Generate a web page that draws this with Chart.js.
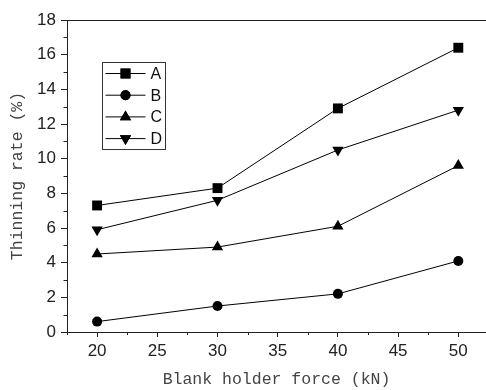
<!DOCTYPE html>
<html>
<head>
<meta charset="utf-8">
<script src="https://cdn.jsdelivr.net/npm/chart.js@4.4.1/dist/chart.umd.min.js"></script>
<style>
html,body{margin:0;padding:0;background:#fff;overflow:hidden;}
#wrap{width:486px;height:390px;overflow:hidden;position:relative;}
</style>
</head>
<body>
<div id="wrap"><canvas id="c" width="493" height="390"></canvas></div>
<script>
const forces = [20, 30, 40, 50];
const seriesA = [7.3, 8.3, 12.9, 16.4];
const seriesB = [0.6, 1.5, 2.2, 4.1];
const seriesC = [4.5, 4.9, 6.1, 9.6];
const seriesD = [5.9, 7.6, 10.5, 12.8];
const seriesNames = ['A', 'B', 'C', 'D'];
const xTicks = [20, 25, 30, 35, 40, 45, 50];
const yTicks = [0, 2, 4, 6, 8, 10, 12, 14, 16, 18];
const xTitle = 'Blank holder force (kN)';
const yTitle = 'Thinning rate (%)';

const axisColor = '#222';
const tickFont = {family: '"Liberation Sans", Arial, sans-serif', size: 17};
const titleFont = {family: '"Liberation Mono", "DejaVu Sans Mono", monospace', size: 16.5};

function pts(vals){ return forces.map((f,i)=>({x:f, y:vals[i]})); }

const styles = [
  {pointStyle:'rect', radius:7, rotation:0},
  {pointStyle:'circle', radius:5, rotation:0},
  {pointStyle:'triangle', radius:6.5, rotation:0},
  {pointStyle:'triangle', radius:6.5, rotation:180}
];
const allSeries = [seriesA, seriesB, seriesC, seriesD];

const datasets = allSeries.map((s,i)=>({
  label: seriesNames[i],
  data: pts(s),
  borderColor:'#000',
  backgroundColor:'#000',
  borderWidth:1,
  pointStyle: styles[i].pointStyle,
  pointRadius: styles[i].radius,
  pointRotation: styles[i].rotation,
  pointBorderWidth: 0,
  pointBackgroundColor:'#000',
  tension:0
}));

const decorPlugin = {
  id:'decor',
  afterDraw(chart){
    const ctx = chart.ctx, ca = chart.chartArea;
    const xs = chart.scales.x, ys = chart.scales.y;
    ctx.save();
    ctx.strokeStyle = axisColor;
    ctx.lineWidth = 1;
    ctx.beginPath();
    ctx.moveTo(ca.left, Math.round(ca.top)+0.5);
    ctx.lineTo(ca.right, Math.round(ca.top)+0.5);
    ctx.stroke();
    const xStep = xTicks[1]-xTicks[0];
    ctx.beginPath();
    for (let v = xTicks[0]-xStep/2; v <= xs.max; v += xStep){
      if (v < xs.min) continue;
      const px = Math.round(xs.getPixelForValue(v))+0.5;
      ctx.moveTo(px, ca.bottom); ctx.lineTo(px, ca.bottom+3);
    }
    const yStep = yTicks[1]-yTicks[0];
    for (let v = yTicks[0]+yStep/2; v < ys.max; v += yStep){
      const py = Math.round(ys.getPixelForValue(v))+0.5;
      ctx.moveTo(ca.left, py); ctx.lineTo(ca.left-3.5, py);
    }
    ctx.stroke();

    const bx = ca.left + 35.5, by = ca.top + 42.5, bw = 63, bh = 87;
    ctx.strokeStyle = '#333';
    ctx.strokeRect(bx, by, bw, bh);
    chart.data.datasets.forEach((ds,i)=>{
      const ry = by + 11 + i*21.7;
      ctx.strokeStyle = '#000';
      ctx.lineWidth = 1;
      ctx.beginPath();
      ctx.moveTo(bx+3, ry); ctx.lineTo(bx+43, ry);
      ctx.stroke();
      ctx.fillStyle = '#000';
      Chart.helpers.drawPoint(ctx, {pointStyle: ds.pointStyle, radius: ds.pointRadius, rotation: ds.pointRotation, borderWidth:0}, bx+23, ry);
      ctx.fill();
      ctx.fillStyle = '#111';
      ctx.font = '16px "Liberation Sans", Arial, sans-serif';
      ctx.textBaseline = 'middle';
      ctx.textAlign = 'left';
      ctx.fillText(ds.label, bx+48, ry+1);
    });
    ctx.restore();
  }
};

new Chart(document.getElementById('c'), {
  type:'line',
  data:{datasets},
  options:{
    responsive:false,
    animation:false,
    layout:{padding:{top:20, right:0, left:0, bottom:0}},
    plugins:{legend:{display:false}, tooltip:{enabled:false}},
    scales:{
      x:{
        type:'linear',
        min:17.5, max:52.3,
        afterBuildTicks(scale){ scale.ticks = xTicks.map(v=>({value:v})); },
        afterFit(scale){ scale.height = 58; scale.paddingLeft = 0; scale.paddingRight = 0; },
        border:{display:true, color:axisColor, width:1},
        grid:{display:true, drawOnChartArea:false, drawTicks:true, tickLength:5, color:axisColor, tickColor:axisColor},
        ticks:{font:tickFont, color:'#222', padding:4, maxRotation:0, autoSkip:false},
        title:{display:true, text:xTitle, font:titleFont, color:'#444', padding:{top:0,bottom:0}}
      },
      y:{
        type:'linear',
        min:0, max:18,
        afterBuildTicks(scale){ scale.ticks = yTicks.map(v=>({value:v})); },
        afterFit(scale){ scale.width = 67; scale.paddingTop = 0; scale.paddingBottom = 0; },
        border:{display:true, color:axisColor, width:1},
        grid:{display:true, drawOnChartArea:false, drawTicks:true, tickLength:6, color:axisColor, tickColor:axisColor},
        ticks:{font:tickFont, color:'#222', padding:5, autoSkip:false},
        title:{display:true, text:yTitle, font:titleFont, color:'#444', padding:{top:8,bottom:0}}
      }
    }
  },
  plugins:[decorPlugin]
});
</script>
</body>
</html>
